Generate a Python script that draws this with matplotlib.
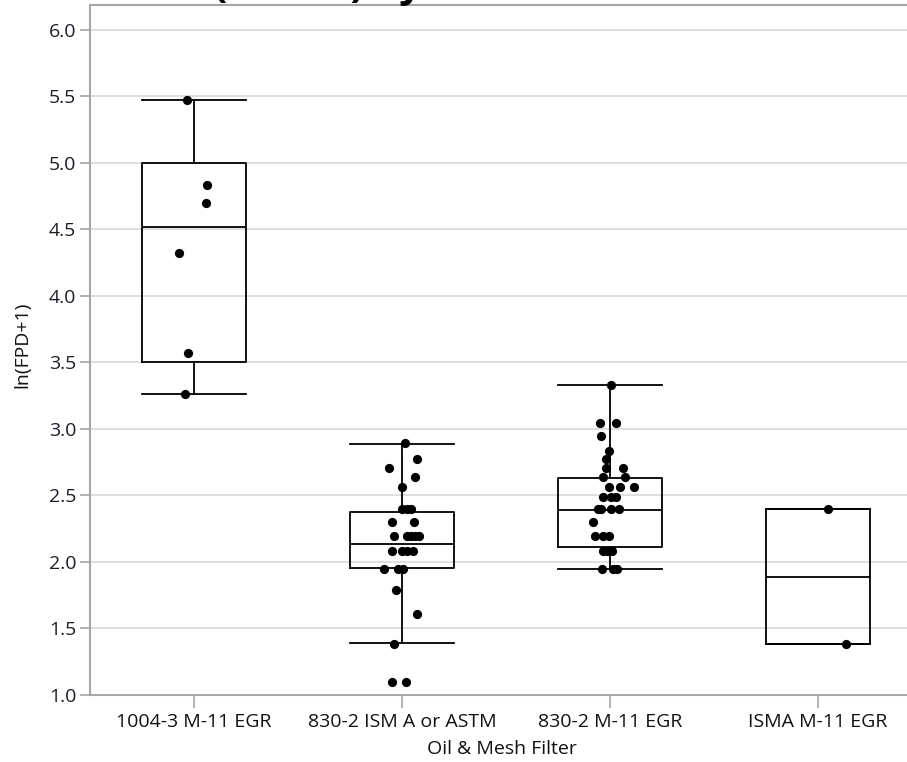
import matplotlib
matplotlib.use("Agg")
import matplotlib.pyplot as plt
import numpy as np

plt.rcParams['font.family'] = ['Open Sans', 'DejaVu Sans']

categories = ["1004-3 M-11 EGR", "830-2 ISM A or ASTM", "830-2 M-11 EGR", "ISMA M-11 EGR"]

# observed values per group
g1_vals = [5.47, 4.83, 4.70, 4.32, 3.57, 3.26]
g2_vals = [2.890, 2.773, 2.708, 2.639, 2.565,
           2.398, 2.398, 2.398,
           2.303, 2.303,
           2.197, 2.197, 2.197, 2.197, 2.197,
           2.079, 2.079, 2.079, 2.079,
           1.946, 1.946, 1.946,
           1.792, 1.609, 1.386, 1.099, 1.099]
g3_vals = [3.332, 3.045, 3.045, 2.944, 2.833, 2.773, 2.708, 2.708,
           2.639, 2.639, 2.565, 2.565, 2.565, 2.485, 2.485, 2.485,
           2.398, 2.398, 2.398, 2.398, 2.303, 2.197, 2.197, 2.197,
           2.079, 2.079, 2.079, 1.946, 1.946, 1.946]
g4_vals = [2.398, 1.386]

# horizontal jitter (category units)
g1_jit = [-0.035, 0.062, 0.056, -0.072, -0.030, -0.045]
g2_jit = [0.014, 0.075, -0.062, 0.064, -0.001,
          -0.001, 0.023, 0.042,
          -0.045, 0.058,
          -0.038, 0.023, 0.043, 0.064, 0.083,
          -0.047, 0.001, 0.023, 0.054,
          -0.088, -0.018, 0.006,
          -0.029, 0.074, -0.037, -0.047, 0.021]
g3_jit = [0.008, -0.048, 0.029, -0.040, -0.003, -0.016, -0.016, 0.064,
          -0.032, 0.072, -0.003, 0.048, 0.115, -0.032, 0.008, 0.032,
          -0.056, -0.040, 0.008, 0.043, -0.080, -0.072, -0.032, -0.003,
          -0.032, -0.013, 0.013, -0.035, 0.016, 0.035]
g4_jit = [0.048, 0.138]

# box statistics as displayed
whislo = [3.26, 1.389, 1.946, 1.386]
q1 = [3.50, 1.951, 2.11, 1.386]
med = [4.52, 2.137, 2.39, 1.89]
q3 = [5.00, 2.378, 2.632, 2.398]
whishi = [5.47, 2.888, 3.327, 2.398]

yticks = [1.0, 1.5, 2.0, 2.5, 3.0, 3.5, 4.0, 4.5, 5.0, 5.5, 6.0]

W, H = 907, 762
fig = plt.figure(figsize=(W / 100, H / 100), dpi=100)
ax = fig.add_axes([90 / W, 1 - 695 / H, (907 - 90) / W, (695 - 5) / H])

grid_c = '#dcdcdc'
spine_c = '#a6a6a6'
for t in yticks:
    ax.axhline(t, color=grid_c, lw=1.3, zorder=0)

stats = []
for i in range(4):
    stats.append(dict(whislo=whislo[i], q1=q1[i], med=med[i], q3=q3[i],
                      whishi=whishi[i], fliers=[], label=categories[i]))
lp = dict(color='black', lw=1.3)
ax.bxp(stats, positions=range(4), widths=0.5, capwidths=0.5, showfliers=False,
       boxprops=lp, whiskerprops=lp, capprops=lp,
       medianprops=dict(color='black', lw=1.3), manage_ticks=False, zorder=2)

for i, (vals, jit) in enumerate([(g1_vals, g1_jit), (g2_vals, g2_jit),
                                 (g3_vals, g3_jit), (g4_vals, g4_jit)]):
    ax.scatter(np.array(jit) + i, vals, s=44, color='black', zorder=3,
               linewidths=0)

ax.set_xlim(-0.5, 3.43)
ax.set_ylim(1.0, 6.185)
ax.set_yticks(yticks)
ax.set_yticklabels([f"{t:.1f}" for t in yticks], fontsize=14, color='#1e1e2a')
ax.set_xticks(range(4))
ax.set_xticklabels(categories, fontsize=14, color='#111111')
ax.tick_params(axis='y', length=7, width=1.2, color=spine_c, pad=3)
ax.tick_params(axis='x', length=9, width=1.2, color=spine_c, pad=4)
for s in ['left', 'bottom', 'top']:
    ax.spines[s].set_color(spine_c)
    ax.spines[s].set_linewidth(1.5)
ax.spines['right'].set_visible(False)

fig.text(22 / W, 1 - 345 / H, "ln(FPD+1)", rotation=90, fontsize=14,
         ha='center', va='center', color='#111111')
fig.text(502 / W, 1 - 749 / H, "Oil & Mesh Filter", fontsize=14,
         ha='center', va='center', color='#111111')
fig.text(175 / W, 1 + 3 / H, "ln(FPD+1) by Oil & Mesh Filter", fontsize=29,
         fontweight='bold', ha='left', va='baseline', color='black')

fig.savefig("out.png", dpi=100)
